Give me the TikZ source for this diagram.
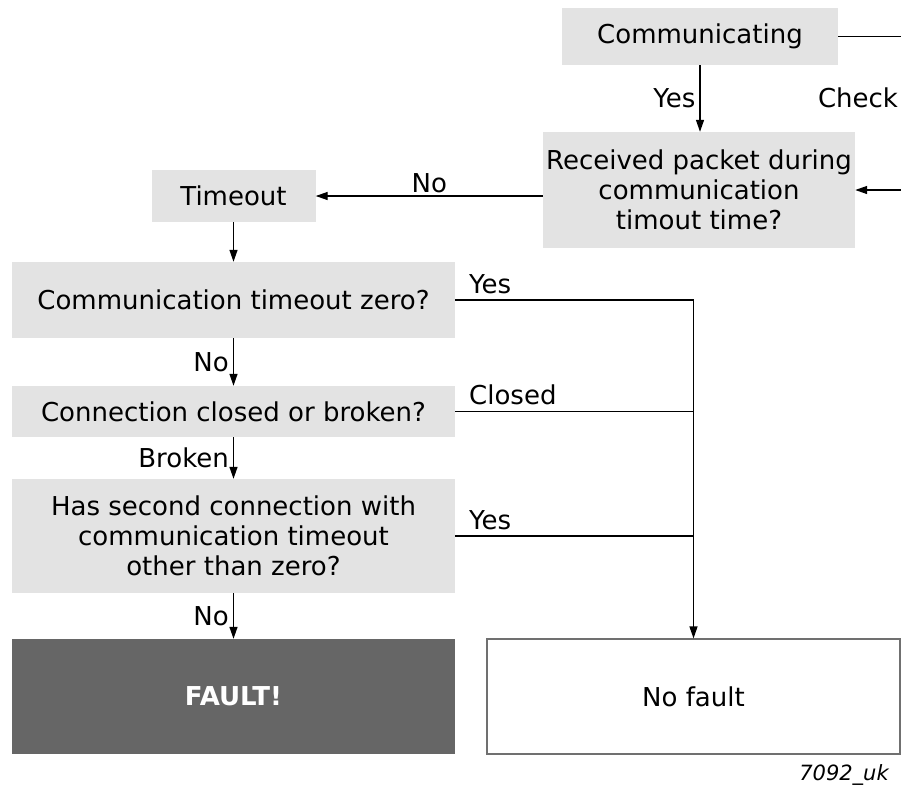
\documentclass[tikz,border=0pt]{standalone}
\usepackage{fontspec}
\setmainfont{DejaVu Sans}
\usetikzlibrary{arrows.meta}

\definecolor{boxgray}{RGB}{227,227,227}
\definecolor{faultgray}{RGB}{102,102,102}
\definecolor{framegray}{RGB}{112,112,112}

\begin{document}
\begin{tikzpicture}[x=1pt, y=-1pt,
	every node/.style={font=\fontsize{26}{30}\selectfont},
	box/.style={fill=boxgray, align=center, inner sep=0pt},
	flow/.style={line width=1.3pt, -{Triangle[length=12pt,width=8pt]}},
	wire/.style={line width=1.3pt},
	lbl/.style={inner sep=4pt}]
				\useasboundingbox (0,0) rectangle (901,793);
				% boxes
				\node [box, minimum width=276pt, minimum height=57pt] (comm) at (700,36.5) {Communicating};
				\node [box, minimum width=312pt, minimum height=116pt] (recv) at (699,190) {Received packet during\\communication\\timout time?};
				\node [box, minimum width=164pt, minimum height=52pt] (tout) at (233.5,196) {Timeout};
				\node [box, minimum width=443pt, minimum height=76pt] (zero) at (233.5,300) {Communication timeout zero?};
				\node [box, minimum width=443pt, minimum height=51pt] (conn) at (233.5,411.5) {Connection closed or broken?};
				\node [box, minimum width=443pt, minimum height=114pt] (second) at (233.5,536) {Has second connection with\\communication timeout\\other than zero?};
				\node [box, fill=faultgray, text=white, font=\fontsize{26}{30}\selectfont\bfseries, minimum width=443pt, minimum height=115pt] (fault) at (233.5,696.5) {FAULT!};
				\node [box, fill=white, draw=framegray, line width=1.2pt, minimum width=413pt, minimum height=115pt] (nofault) at (693.5,696.5) {No fault};
				% check loop, leaves the picture on the right
				\coordinate (loopa) at (912,36.5);
				\coordinate (loopb) at (912,190);
				\draw [flow] (comm.east) -- (loopa) -- (loopb) -- (recv.east);
				\node (check) at (858,98) {Check};
				% main column
				\draw [flow] (comm.south) -- node [lbl, left] {Yes} (comm.south |- recv.north);
				\draw [flow] (recv.west |- tout.east) -- node [lbl, above, inner sep=2pt] {No} (tout.east);
				\draw [flow] (tout.south) -- (zero.north);
				\draw [flow] (zero.south) -- node [lbl, left] {No} (conn.north);
				\draw [flow] (conn.south) -- node [lbl, left] {Broken} (second.north);
				\draw [flow] (second.south) -- node [lbl, left] {No} (fault.north);
				% exits to no fault
				\draw [wire] (zero.east) -- node [pos=0, anchor=base west, xshift=10pt, yshift=7pt] {Yes} (zero.east -| nofault.north);
				\draw [wire] (conn.east) -- node [pos=0, anchor=base west, xshift=10pt, yshift=7pt] {Closed} (conn.east -| nofault.north);
				\draw [wire] (second.east) -- node [pos=0, anchor=base west, xshift=10pt, yshift=7pt] {Yes} (second.east -| nofault.north);
				\draw [flow] (zero.east -| nofault.north) -- (nofault.north);
				\node (code) at (844,775) {\fontsize{21}{24}\selectfont\itshape 7092\_uk};
			\end{tikzpicture}
\end{document}
